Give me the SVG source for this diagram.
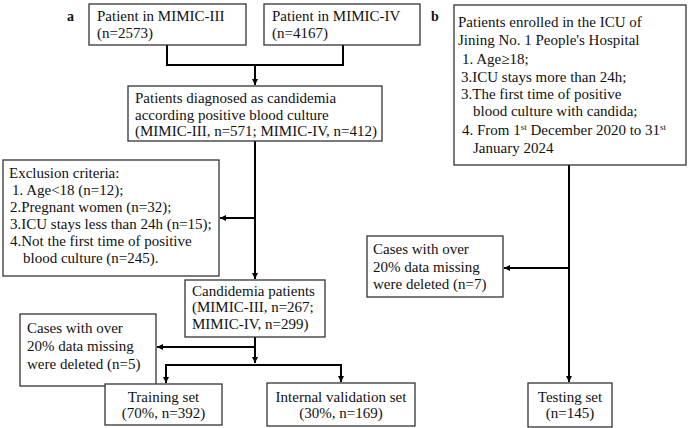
<svg xmlns="http://www.w3.org/2000/svg" width="689" height="428" viewBox="0 0 689 428">
<defs>
<marker id="arr" markerUnits="userSpaceOnUse" markerWidth="8" markerHeight="8" refX="6" refY="3" orient="auto">
<path d="M0,0 L6,3 L0,6 z" fill="#000"/>
</marker>
<style>
.box{fill:#fff;stroke:#333;stroke-width:1.3}
.t{font-family:"Liberation Serif","Times New Roman",serif;font-size:15px;fill:#111}
.c{text-anchor:middle}
.lbl{font-family:"Liberation Serif","Times New Roman",serif;font-size:14px;font-weight:bold;fill:#111}
.ln{fill:none;stroke:#000;stroke-width:2}
</style>
</defs>
<rect width="689" height="428" fill="#fff"/>
<text class="lbl" x="67" y="21">a</text>
<text class="lbl" x="431" y="21">b</text>
<g id="connectors">
<path class="ln" d="M167,45 V65 H343 V45"/>
<path class="ln" d="M255,65 V85" marker-end="url(#arr)"/>
<path class="ln" d="M255,141 V279" marker-end="url(#arr)"/>
<path class="ln" d="M255,218 H220" marker-end="url(#arr)"/>
<path class="ln" d="M255,337 V363" marker-end="url(#arr)"/>
<path class="ln" d="M255,347 H157" marker-end="url(#arr)"/>
<path class="ln" d="M255,365 H166 V383" marker-end="url(#arr)"/>
<path class="ln" d="M255,365 H341 V382" marker-end="url(#arr)"/>
<path class="ln" d="M569,165 V382" marker-end="url(#arr)"/>
<path class="ln" d="M569,268 H504" marker-end="url(#arr)"/>
</g>
<g id="mimic3">
<rect class="box" x="89" y="4" width="157" height="41"/>
<text class="t" x="97" y="21">Patient in MIMIC-III</text>
<text class="t" x="97" y="38">(n=2573)</text>
</g>
<g id="mimic4">
<rect class="box" x="264" y="4" width="156" height="41"/>
<text class="t" x="272" y="21">Patient in MIMIC-IV</text>
<text class="t" x="272" y="38">(n=4167)</text>
</g>
<g id="diagnosed">
<rect class="box" x="128" y="86" width="254" height="55"/>
<text class="t" x="135" y="103">Patients diagnosed as candidemia</text>
<text class="t" x="135" y="120">according positive blood culture</text>
<text class="t" x="135" y="136">(MIMIC-III, n=571; MIMIC-IV, n=412)</text>
</g>
<g id="exclusion">
<rect class="box" x="3" y="160" width="216" height="116"/>
<text class="t" x="9" y="178">Exclusion criteria:</text>
<text class="t" x="12" y="195">1. Age&lt;18 (n=12);</text>
<text class="t" x="10" y="212">2.Pregnant women (n=32);</text>
<text class="t" x="10" y="229">3.ICU stays less than 24h (n=15);</text>
<text class="t" x="10" y="246">4.Not the first time of  positive</text>
<text class="t" x="23" y="263">blood culture  (n=245).</text>
</g>
<g id="candidemia">
<rect class="box" x="185" y="280" width="140" height="57"/>
<text class="t" x="192" y="296">Candidemia patients</text>
<text class="t" x="192" y="312">(MIMIC-III, n=267;</text>
<text class="t" x="192" y="329">MIMIC-IV, n=299)</text>
</g>
<g id="missing-a">
<rect class="box" x="20" y="314" width="136" height="72"/>
<text class="t" x="27" y="333">Cases with over</text>
<text class="t" x="27" y="351">20% data missing</text>
<text class="t" x="27" y="369">were deleted (n=5)</text>
</g>
<g id="training">
<rect class="box" x="105" y="384" width="117" height="41"/>
<text class="t c" x="163.5" y="402">Training set</text>
<text class="t c" x="163.5" y="418">(70%, n=392)</text>
</g>
<g id="validation">
<rect class="box" x="267" y="383" width="148" height="43"/>
<text class="t c" x="341" y="402">Internal validation set</text>
<text class="t c" x="341" y="418">(30%, n=169)</text>
</g>
<g id="jining">
<rect class="box" x="454" y="5" width="232" height="160"/>
<text class="t" x="458" y="27">Patients enrolled in the ICU of</text>
<text class="t" x="458" y="45">Jining No. 1 People's Hospital</text>
<text class="t" x="462" y="64">1. Age≥18;</text>
<text class="t" x="461" y="82">3.ICU stays more than 24h;</text>
<text class="t" x="461" y="99">3.The first time of  positive</text>
<text class="t" x="473" y="116">blood culture with candida;</text>
<text class="t" x="462" y="135">4. From 1<tspan dy="-5" font-size="9">st</tspan><tspan dy="5"> December 2020 to 31</tspan><tspan dy="-5" font-size="9">st</tspan></text>
<text class="t" x="473" y="153">January 2024</text>
</g>
<g id="missing-b">
<rect class="box" x="367" y="236" width="136" height="61"/>
<text class="t" x="373" y="254">Cases with over</text>
<text class="t" x="373" y="272">20% data missing</text>
<text class="t" x="373" y="289">were deleted (n=7)</text>
</g>
<g id="testing">
<rect class="box" x="528" y="383" width="84" height="44"/>
<text class="t c" x="570" y="402">Testing set</text>
<text class="t c" x="570" y="418">(n=145)</text>
</g>
</svg>
